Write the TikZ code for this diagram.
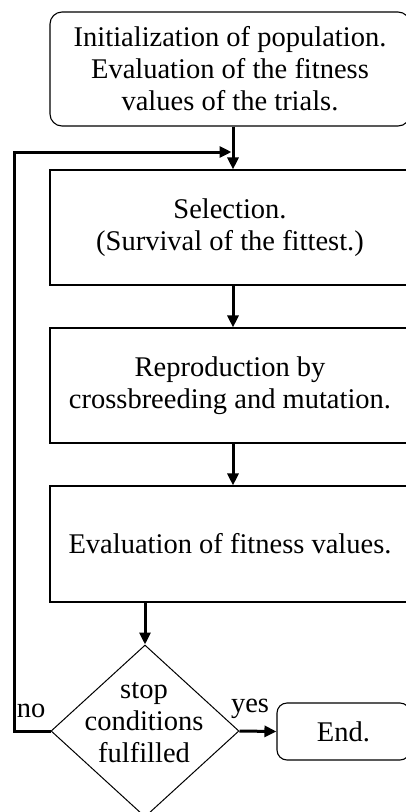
\documentclass[tikz,border=0pt]{standalone}
\usepackage{fontspec}
\setmainfont{Liberation Serif}
\usetikzlibrary{shapes.geometric,arrows.meta}
\begin{document}
\begin{tikzpicture}[x=1pt,y=-1pt,
  txt/.style={font=\fontsize{28.5}{32}\selectfont,align=center},
  box/.style={draw,line width=1.1pt,minimum width=360pt,inner sep=0pt,txt},
  flow/.style={line width=3pt,-{Triangle[length=12pt,width=11pt]}},
  lbl/.style={font=\fontsize{28.5}{32}\selectfont,inner sep=0pt}]
\useasboundingbox (0,0) rectangle (405,812);
\node[box,rounded corners=12pt,minimum height=114pt] (top) at (230,69)
  {Initialization of population.\\Evaluation of the fitness\\values of the trials.};
\node[box,minimum height=115pt] (sel) at (230,227.5)
  {Selection.\\(Survival of the fittest.)};
\node[box,minimum height=115pt] (rep) at (230,385.5)
  {Reproduction by\\crossbreeding and mutation.};
\node[box,minimum height=116pt] (eva) at (230,544)
  {Evaluation of fitness values.};
\node[draw,diamond,line width=1pt,minimum width=188pt,minimum height=172pt,inner sep=0pt] (dec) at (145,731) {};
\node[txt,inner sep=0pt] (dect) at (144,723) {stop\\conditions\\fulfilled};
\node[draw,line width=1.1pt,rounded corners=10pt,minimum width=133pt,minimum height=57pt,inner sep=0pt,txt] (end) at (343.5,731.5) {End.};
\node[lbl] (no) at (31,711) {no};
\node[lbl] (yes) at (250,709) {yes};
\coordinate (join) at (233,152);
\coordinate (corner) at (14,152);
\draw[flow] ([xshift=3pt]top.south) -- ([xshift=3pt]sel.north);
\draw[flow] ([xshift=3pt]sel.south) -- ([xshift=3pt]rep.north);
\draw[flow] ([xshift=3pt]rep.south) -- ([xshift=3pt]eva.north);
\draw[flow] (eva.south -| dec.north) -- (dec.north);
\draw[flow] (dec.east) -- (end.west);
\draw[flow] (dec.west) -| (corner) -- ([xshift=-1.5pt]join);
\end{tikzpicture}
\end{document}
